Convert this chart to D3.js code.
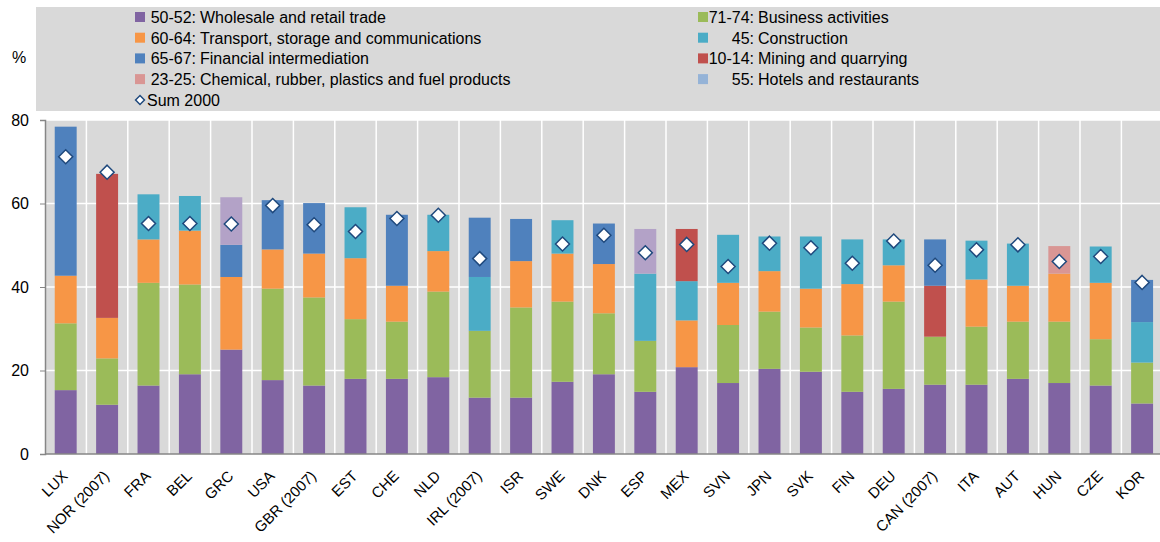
<!DOCTYPE html>
<html>
<head>
<meta charset="utf-8">
<script src="https://cdn.jsdelivr.net/npm/d3@7"></script>
<style>
  body { margin: 0; background: #fff; }
  svg { font-family: "Liberation Sans", Arial, sans-serif; }
</style>
</head>
<body>
<div id="container"></div>
<script>
var width = 1160, height = 542;

// countries on the x axis
var countries = ["LUX", "NOR (2007)", "FRA", "BEL", "GRC", "USA", "GBR (2007)", "EST", "CHE", "NLD",
  "IRL (2007)", "ISR", "SWE", "DNK", "ESP", "MEX", "SVN", "JPN", "SVK", "FIN", "DEU", "CAN (2007)",
  "ITA", "AUT", "HUN", "CZE", "KOR"];

// shares by sector (%)
var wholesale    = [15.3, 11.8, 16.4, 19.1, 25.0, 17.7, 16.4, 18.0, 18.0, 18.4, 13.5, 13.5, 17.3, 19.1, 14.9, 20.8, 17.0, 20.4, 19.7, 14.9, 15.6, 16.6, 16.6, 18.0, 17.0, 16.4, 12.1];
var business     = [16.0, 11.1, 24.6, 21.5, 0, 21.9, 21.1, 14.3, 13.7, 20.5, 16.0, 21.6, 19.2, 14.6, 12.2, 0, 13.9, 13.7, 10.6, 13.5, 20.9, 11.5, 13.9, 13.7, 14.7, 11.1, 9.8];
var transport    = [11.4, 9.7, 10.4, 12.9, 17.4, 9.4, 10.5, 14.6, 8.6, 9.7, 0, 11.1, 11.5, 11.8, 0, 11.2, 10.1, 9.7, 9.3, 12.3, 8.7, 0, 11.3, 8.6, 11.5, 13.5, 0];
var construction = [0, 0, 10.8, 8.3, 0, 0, 0, 12.2, 0, 8.7, 12.9, 0, 8.0, 0, 16.1, 9.4, 11.5, 8.3, 12.5, 10.7, 6.2, 0, 9.3, 10.1, 0, 8.7, 9.7];
var mining       = [0, 34.5, 0, 0, 0, 0, 0, 0, 0, 0, 0, 0, 0, 0, 0, 12.5, 0, 0, 0, 0, 0, 12.2, 0, 0, 0, 0, 0];
var finance      = [35.7, 0, 0, 0, 7.7, 11.8, 12.1, 0, 17.0, 0, 14.2, 10.1, 0, 9.7, 0, 0, 0, 0, 0, 0, 0, 11.1, 0, 0, 0, 0, 10.1];
var chemical     = [0, 0, 0, 0, 0, 0, 0, 0, 0, 0, 0, 0, 0, 0, 0, 0, 0, 0, 0, 0, 0, 0, 0, 0, 6.6, 0, 0];
var hotels       = [0, 0, 0, 0, 11.4, 0, 0, 0, 0, 0, 0, 0, 0, 0, 10.7, 0, 0, 0, 0, 0, 0, 0, 0, 0, 0, 0, 0];
var sum2000      = [71.2, 67.5, 55.2, 55.2, 55.1, 59.5, 54.9, 53.3, 56.4, 57.2, 46.8, null, 50.3, 52.4, 48.2, 50.2, 44.9, 50.5, 49.4, 45.7, 51.0, 45.2, 48.9, 50.1, 46.1, 47.3, 41.1];

var yTicks = [0, 20, 40, 60, 80];

var sectors = [
  { key: "wholesale", code: "50-52", name: "Wholesale and retail trade", color: "#8064a2", values: wholesale },
  { key: "business", code: "71-74", name: "Business activities", color: "#9bbb59", values: business },
  { key: "transport", code: "60-64", name: "Transport, storage and communications", color: "#f79646", values: transport },
  { key: "construction", code: "45", name: "Construction", color: "#4bacc6", values: construction },
  { key: "mining", code: "10-14", name: "Mining and quarrying", color: "#c0504d", values: mining },
  { key: "finance", code: "65-67", name: "Financial intermediation", color: "#4f81bd", values: finance },
  { key: "chemical", code: "23-25", name: "Chemical, rubber, plastics and fuel products", color: "#d99694", values: chemical },
  { key: "hotels", code: "55", name: "Hotels and restaurants", color: "#b3a2c7", swatch: "#95b3d7", values: hotels }
];

var table = countries.map(function(c, i) {
  var row = { country: c, sum: sum2000[i] };
  sectors.forEach(function(s) { row[s.key] = s.values[i]; });
  return row;
});

var svg = d3.select("#container").append("svg")
  .attr("width", width)
  .attr("height", height);

// legend background
svg.append("rect")
  .attr("x", 36).attr("y", 7)
  .attr("width", width - 36).attr("height", 104)
  .attr("fill", "#d9d9d9");

svg.append("text")
  .attr("x", 12).attr("y", 63)
  .attr("font-size", 16)
  .text("%");

var margin = { left: 45, top: 120, bottom: 454 };

var x = d3.scaleBand()
  .domain(countries)
  .range([margin.left, margin.left + 27 * 41.4])
  .paddingInner(0.47)
  .paddingOuter(0.235);

var y = d3.scaleLinear()
  .domain([0, 80])
  .range([margin.bottom, margin.top]);

// plot background
svg.append("rect")
  .attr("x", margin.left).attr("y", margin.top)
  .attr("width", width - margin.left).attr("height", margin.bottom - margin.top)
  .attr("fill", "#d9d9d9");

// grid
var gap = (x.step() - x.bandwidth()) / 2;
svg.append("g").selectAll("line")
  .data(countries.slice(1))
  .join("line")
  .attr("x1", function(d) { return x(d) - gap; })
  .attr("x2", function(d) { return x(d) - gap; })
  .attr("y1", margin.top).attr("y2", margin.bottom)
  .attr("stroke", "#fff").attr("stroke-width", 1.5);

svg.append("g").selectAll("line")
  .data(yTicks.slice(1))
  .join("line")
  .attr("x1", margin.left).attr("x2", width)
  .attr("y1", function(d) { return y(d); }).attr("y2", function(d) { return y(d); })
  .attr("stroke", "#fff").attr("stroke-width", 1.5);

// stacked bars
var stack = d3.stack().keys(sectors.map(function(s) { return s.key; }));
var series = stack(table);

svg.append("g").selectAll("g")
  .data(series)
  .join("g")
  .attr("fill", function(d, i) { return sectors[i].color; })
  .selectAll("rect")
  .data(function(d) { return d; })
  .join("rect")
  .attr("x", function(d) { return x(d.data.country); })
  .attr("width", x.bandwidth())
  .attr("y", function(d) { return y(d[1]); })
  .attr("height", function(d) { return y(d[0]) - y(d[1]); });

// axes
var yAxis = svg.append("g")
  .attr("transform", "translate(" + margin.left + ",0)")
  .call(d3.axisLeft(y).tickValues(yTicks).tickSize(5).tickPadding(11));
yAxis.select(".domain").attr("stroke", "#868686").attr("stroke-width", 1.5);
yAxis.selectAll(".tick line").attr("stroke", "#868686");
yAxis.selectAll("text").attr("font-size", 16).attr("fill", "#000")
  .attr("font-family", "Liberation Sans, Arial, sans-serif");

svg.append("line")
  .attr("x1", margin.left).attr("x2", width)
  .attr("y1", margin.bottom).attr("y2", margin.bottom)
  .attr("stroke", "#868686").attr("stroke-width", 1.5);

svg.append("g").selectAll("text")
  .data(countries)
  .join("text")
  .attr("transform", function(d) {
    return "translate(" + (x(d) + x.bandwidth() / 2 + 3) + "," + (margin.bottom + 23) + ") rotate(-45)";
  })
  .attr("text-anchor", "end")
  .attr("font-size", 15)
  .text(function(d) { return d; });

// Sum 2000 markers
var diamond = d3.symbol().type(d3.symbolDiamond2).size(125);
svg.append("g").selectAll("path")
  .data(table.filter(function(d) { return d.sum != null; }))
  .join("path")
  .attr("d", diamond)
  .attr("transform", function(d) {
    return "translate(" + (x(d.country) + x.bandwidth() / 2) + "," + y(d.sum) + ")";
  })
  .attr("fill", "#fff")
  .attr("stroke", "#1f497d")
  .attr("stroke-width", 1.5);

// legend
var legendLeft = sectors.filter(function(s) { return ["wholesale", "transport", "finance", "chemical"].indexOf(s.key) >= 0; });
var legendRight = sectors.filter(function(s) { return ["business", "construction", "mining", "hotels"].indexOf(s.key) >= 0; });

function drawLegend(items, sx, colonX) {
  var g = svg.append("g");
  items.forEach(function(s, i) {
    var cy = 17 + i * 20.7;
    g.append("rect")
      .attr("x", sx).attr("y", cy - 5)
      .attr("width", 10).attr("height", 10)
      .attr("fill", s.swatch || s.color);
    g.append("text")
      .attr("x", colonX).attr("y", cy + 6)
      .attr("text-anchor", "end")
      .attr("font-size", 16)
      .text(s.code + ":");
    g.append("text")
      .attr("x", colonX + 4).attr("y", cy + 6)
      .attr("font-size", 16)
      .text(s.name);
  });
  return g;
}

drawLegend(legendLeft, 135, 196);
drawLegend(legendRight, 698, 754);

// Sum 2000 legend entry
svg.append("path")
  .attr("d", d3.symbol().type(d3.symbolDiamond2).size(50))
  .attr("transform", "translate(140,100)")
  .attr("fill", "#fff").attr("stroke", "#1f497d").attr("stroke-width", 1.5);
svg.append("text")
  .attr("x", 147).attr("y", 106)
  .attr("font-size", 16)
  .text("Sum 2000");
</script>
</body>
</html>
